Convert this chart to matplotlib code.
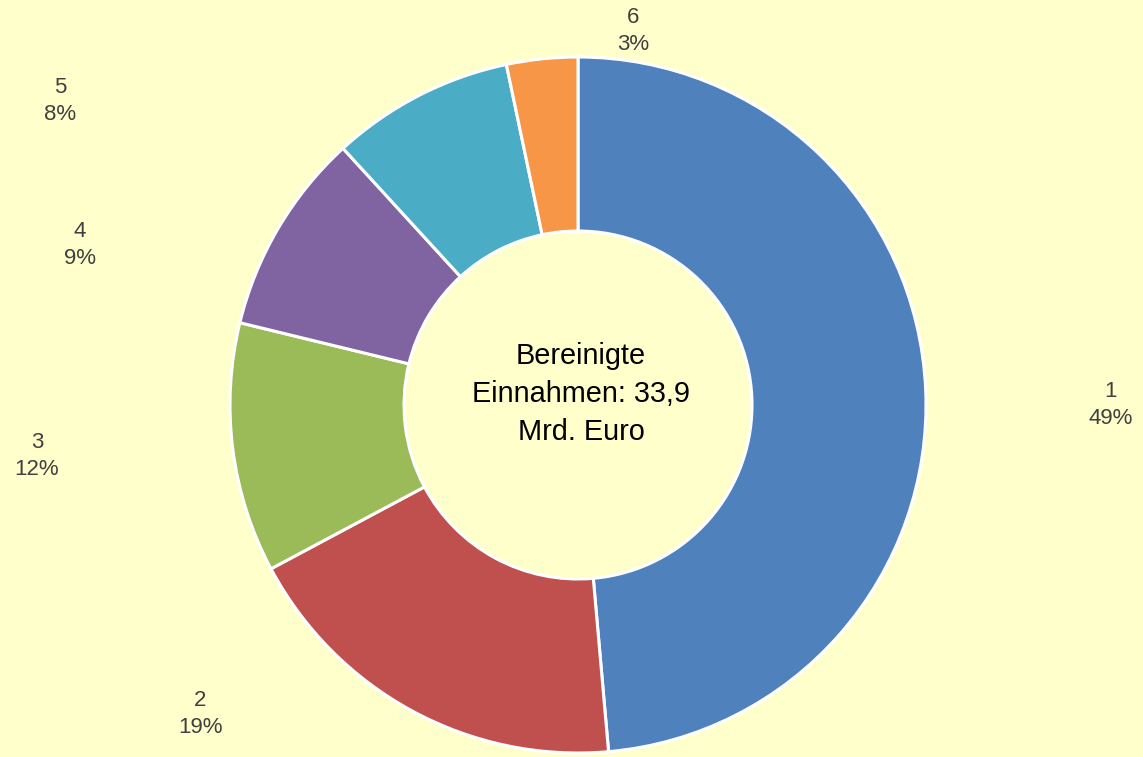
import matplotlib
matplotlib.use("Agg")
import matplotlib.pyplot as plt

# Data
categories = ["1", "2", "3", "4", "5", "6"]
shares = [48.6, 18.6, 11.6, 9.4, 8.5, 3.3]
pct_labels = ["49%", "19%", "12%", "9%", "8%", "3%"]
center_text = "Bereinigte\nEinnahmen: 33,9\nMrd. Euro"

colors = ["#4F81BD", "#C0504D", "#9BBB59", "#8064A2", "#4BACC6", "#F79646"]
bg = "#FFFFCC"
label_pos = [(1111, 405), (200, 714), (37, 456), (80, 245), (60, 101), (633, 31)]  # pixel positions (x, y from top)

W, H = 1143, 757
plt.rcParams['font.family'] = ['Liberation Sans', 'DejaVu Sans']
fig = plt.figure(figsize=(W / 100, H / 100), dpi=100)
fig.patch.set_facecolor(bg)
ax = fig.add_axes([0, 0, 1, 1])
ax.set_facecolor(bg)

cx, cy, R = 578, H - 405, 348
ax.pie(shares, colors=colors, startangle=90, counterclock=False,
       center=(cx, cy), radius=R,
       wedgeprops=dict(width=R * 0.5, edgecolor="white", linewidth=2.2))
ax.set_xlim(0, W)
ax.set_ylim(0, H)
ax.set_aspect("equal")
ax.axis("off")

ax.text(cx + 3, cy + 11, center_text, ha="center", va="center", fontsize=20.8,
        color="black", linespacing=1.47)

for cat, pct, (lx, ly) in zip(categories, pct_labels, label_pos):
    ax.text(lx, H - ly, f"{cat}\n{pct}", ha="center", va="center",
            fontsize=16, color="#404040", linespacing=1.4)

fig.savefig("out.png", dpi=100, facecolor=bg)
